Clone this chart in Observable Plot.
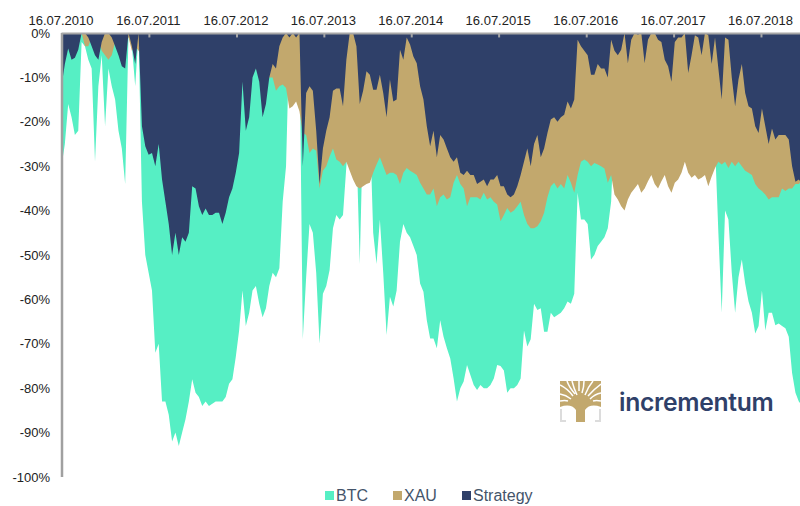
<!DOCTYPE html>
<html>
<head>
<meta charset="utf-8">
<script src="https://cdn.jsdelivr.net/npm/d3@7"></script>
<script src="https://cdn.jsdelivr.net/npm/@observablehq/plot@0.6"></script>
<style>
html,body{margin:0;padding:0;background:#fff;}
#wrap{position:relative;width:800px;height:506px;overflow:hidden;font-family:"Liberation Sans",Arial,sans-serif;}
#wrap svg.plot{display:block;}
.lg{position:absolute;top:486px;font-size:16px;line-height:19px;color:#44546a;white-space:nowrap;}
.sq{position:absolute;top:491px;width:9px;height:9px;}
#brand{position:absolute;left:619px;top:386px;font-family:Inter,sans-serif;font-weight:600;font-size:24.7px;line-height:32px;color:#2f4069;letter-spacing:-0.3px;white-space:nowrap;}
#tree{position:absolute;left:560px;top:381px;}
</style>
</head>
<body>
<div id="wrap"></div>
<script>
const startDate = "2010-07-16";
const stepDays = 14;
const yearTicks = ["2010-07-16","2011-07-16","2012-07-16","2013-07-16","2014-07-16","2015-07-16","2016-07-16","2017-07-16","2018-07-16"];
const yTicks = [0,-10,-20,-30,-40,-50,-60,-70,-80,-90,-100];
const seriesNames = ["BTC","XAU","Strategy"];
const seriesColors = ["#56efc4","#c2a86d","#2f4069"];

const btc = [-30,-25,-16,-19,-23,-22,-2,-3,-6,-8,-29,-12,-5,-21,-8,-12,-15,-22,-26,-34,0,-3,-12,0,
-38,-50,-54,-58,-72,-70,-83,-83,-86,-92,-90,-93,-90,-87,-83,-78,-81,-82,-84,-83,-84,-83.5,-83,-83,-83,-82,
-79,-78,-73,-67,-58,-66,-63,-58,-57,-61,-64,-62,-57,-54,-55,-53,-38,-30,-1,-1,-1,-1,
-69,-55,-43,-45,-54,-70,-58.7,-57,-53.4,-44,-41,-42,-41,-30,-20,-20,-25,-52,-20,-20,-20,-45,-52,-42,
-54,-68,-59.4,-61.6,-58,-47,-43,-45,-46,-48,-50,-56.4,-58.3,-64.7,-68.8,-68.8,-71,-64.7,-68.4,-71,-73.3,-77.8,
-83,-80,-78.5,-74.8,-77,-79.3,-80.4,-79.3,-80,-80,-79.3,-77.8,-74.8,-75,-76,-81,-80,-80,-79.3,-77.8,
-67,-70.6,-69,-61,-62.4,-62,-67.3,-67.3,-63,-64,-63.5,-63,-62,-60.5,-61,-58.7,
-36,-42,-42,-43,-51,-50,-48,-47,-46,-44,-38,-20,-15,-15,-12,-15,-15,-12,-12,-12,-12,-12,-12,-15,-15,-15,-12,-12,-15,-15,-12,-12,-10,-10,-10,-10,-10,-10,-10,-10,-10,-25,
-45,-63,-40,-42,-54,-63,-55,-51,-56.4,-60.5,-63,-67.7,-66,-58,-67,-63,-63,-65.8,-65.4,-66,-66.5,-68.4,-76.6,-81,-83,-84];

const xau = [0,0,0,0,0,0,0,-3,-3,-1,-1,-1,-4,-5,-6,-5,-2,-2,-1,-1,-1,-4,-3,-4,
-5,-6,-6,-7,-8,-8,-9,-9,-10,-10,-10,-10,-9,-9,-9,-9,-8,-8,-8,-8,-8,-8,-8,-8,-8,-8,
-8,-8,-8,-8,-8,-8,-8,-8,-8,-9,-11,-10,-10,-10,-13,-12,-11.6,-12.4,-17,-16.5,-15.4,-17.6,
-22.5,-23,-27,-26,-26.5,-35,-31,-30,-27.8,-26,-28.5,-29,-30,-29,-31,-33,-34.5,-35,-34.5,-34,-33.7,-31.5,-29.6,-28,
-30,-32,-31.5,-31.5,-32,-34,-31.5,-30.4,-31,-31.5,-32,-33.7,-35,-36.4,-36.4,-35,-39,-37,-36.4,-37.5,
-37,-33.7,-32,-34,-35,-39,-37,-37,-37,-37.5,-36,-37.5,-37,-38,-38.6,-42.4,-41,-39.4,-40.5,-40,
-39,-38,-41,-43,-44,-44,-43.5,-42.4,-40.5,-37,-34.5,-33.7,-35,-34,-35,-32,-33.7,-36,
-32,-29,-28.5,-29,-30,-29.3,-29.6,-30,-30.5,-33.7,-32,-36.4,-37.5,-39,-40,-37.5,-36,-35,-34,-36,-35,-33.4,-32,-34,-35,-33.4,-32,-34.5,-36,-33.7,-33,-31.5,-29,-31.5,-32.6,-32,-33,-32.6,-32,-34.5,
-32.3,-30.4,-29,-29.6,-29,-30.4,-29,-30,-29,-30,-31,-31.5,-32,-34,-35,-35.6,-36.4,-37.5,-37,-37,-37,-35,-35.6,-35,-35,-34,-34,-33];

const strategy = [-12,-7,-3.5,-6,-5.6,-3.8,0,0,-1,-3,-5,-6,-2,0,0,-1,-3,-5,-7.5,-8,0,-3,-7,0,
-21,-25.5,-27.4,-27,-30,-25,-33,-38,-43,-50,-45,-50,-46,-47,-45,-34.5,-35,-39,-41,-39.5,-41,-41,-40.5,-40.5,-43,-40.5,
-37,-35,-31.5,-27,-11,-22,-19,-10,-8,-11,-19,-16,-10,-7,-8,-3,-1,0,-1,0,-1,0,
-30,-13.5,-12,-13,-22,-34,-26,-22,-19,-13,-12.5,-12.5,-16.5,-6,0,0,-3,-16,-13,-8.6,-9.4,-12.8,-12.8,-9.4,
-13.5,-19,-10.5,-15.4,-15,-3.8,-6,-1,-2.6,-5.3,-6.8,-12,-15,-21,-25.5,-22,-28,-23,-24,-26,
-28,-29,-28,-31.5,-32,-31,-32,-32,-34,-33.5,-33,-34.5,-33,-33,-32,-34.5,-34.5,-36.4,-37,-36.4,
-34.5,-32,-29,-26,-30,-25,-23,-28,-26,-22.5,-19.5,-19,-20,-19,-18.4,-15.4,-17,-15,
-1.5,-3,-4,-5,-9.4,-9.4,-7,-8,-8,-10,-1.5,-4,-5,-3.8,0,-6.8,-1.5,0,-0.4,0,-6.8,-1.5,0,0,-1.5,-2,-6,-7.5,-11,-2,-1,-1,0,-9,-5,-0.5,-1,-5,0,-0.5,
-7,-1,-8,-15,-1,-1.5,-10,-16.5,-10.5,-7,-13.5,-16.5,-17,-21,-22.5,-17,-21,-25,-21.5,-24,-23,-23,-23,-24,-30,-33.5,-33,-34];

const t0 = d3.isoParse(startDate);
const dateOf = i => d3.timeDay.offset(t0, i * stepDays);
const rows = values => values.map((v, i) => ({date: dateOf(i), value: v}));
const tickDates = yearTicks.map(d => d3.isoParse(d));
const fmt = d3.timeFormat("%d.%m.%Y");

const chart = Plot.plot({
  width: 800, height: 486,
  marginTop: 33, marginBottom: 9, marginLeft: 61.5, marginRight: 0,
  style: {fontFamily: '"Liberation Sans",Arial,sans-serif', background: "#fff"},
  x: {type: "time", domain: [t0, d3.timeDay.offset(t0, 3085)]},
  y: {domain: [-100, 0], range: [477, 33]},
  marks: [
    Plot.areaY(rows(btc), {x: "date", y1: 0, y2: "value", fill: seriesColors[0], clip: true}),
    Plot.areaY(rows(xau), {x: "date", y1: 0, y2: "value", fill: seriesColors[1], clip: true}),
    Plot.areaY(rows(strategy), {x: "date", y1: 0, y2: "value", fill: seriesColors[2], clip: true}),
    Plot.ruleX([t0], {stroke: "#a0a0a0", strokeWidth: 2.5, y1: 0, y2: -100}),
    Plot.ruleY([0], {stroke: "#a6a6a6", strokeWidth: 2}),
    Plot.ruleX(tickDates.slice(1), {y1: 0, y2: -1, stroke: "#a6a6a6", strokeWidth: 2}),
    Plot.axisX({anchor: "top", ticks: tickDates, tickFormat: d => fmt(d), tickSize: 0, tickPadding: 9, fontSize: 13, fill: "#222", label: null, dx: -1}),
    Plot.axisY({ticks: yTicks, tickFormat: d => d + "%", tickSize: 0, tickPadding: 12, fontSize: 13, fill: "#222", label: null})
  ]
});

const wrap = document.getElementById("wrap");
wrap.appendChild(chart);

const legendX = [325, 393, 462];
seriesNames.forEach((n, k) => {
  const s = document.createElement("div");
  s.className = "sq"; s.style.left = legendX[k] + "px"; s.style.background = seriesColors[k];
  wrap.appendChild(s);
  const l = document.createElement("div");
  l.className = "lg"; l.style.left = (legendX[k] + 11) + "px"; l.textContent = n;
  wrap.appendChild(l);
});

const brand = document.createElement("div");
brand.id = "brand"; brand.textContent = "incrementum";
wrap.appendChild(brand);

const tree = document.createElement("div");
tree.id = "tree";
tree.innerHTML = `<svg width="41" height="41" viewBox="0 0 41 41">
<path d="M0 28V41H6V39H2V28ZM41 28V41H35V39H39V28Z" fill="#dcdcdc"/>
<path d="M0 0H41V26Q30 22 25 29V41H16V29Q11 22 0 26Z" fill="#c2a86d"/>
<g fill="none" stroke="#fff" stroke-width="1.5">
<path d="M12 0Q14 8 17 14M19 0V10M24 0Q24 6 22 12M33 0Q28 6 25 14M41 3Q34 8 28 15M41 12Q35 13 30 18M0 4Q8 8 13 15M7 0Q9 6 15 13M0 13Q6 14 11 18M41 20Q36 19 33 20M0 20Q5 19 8 20"/>
</g>
</svg>`;
wrap.appendChild(tree);
</script>
</body>
</html>
